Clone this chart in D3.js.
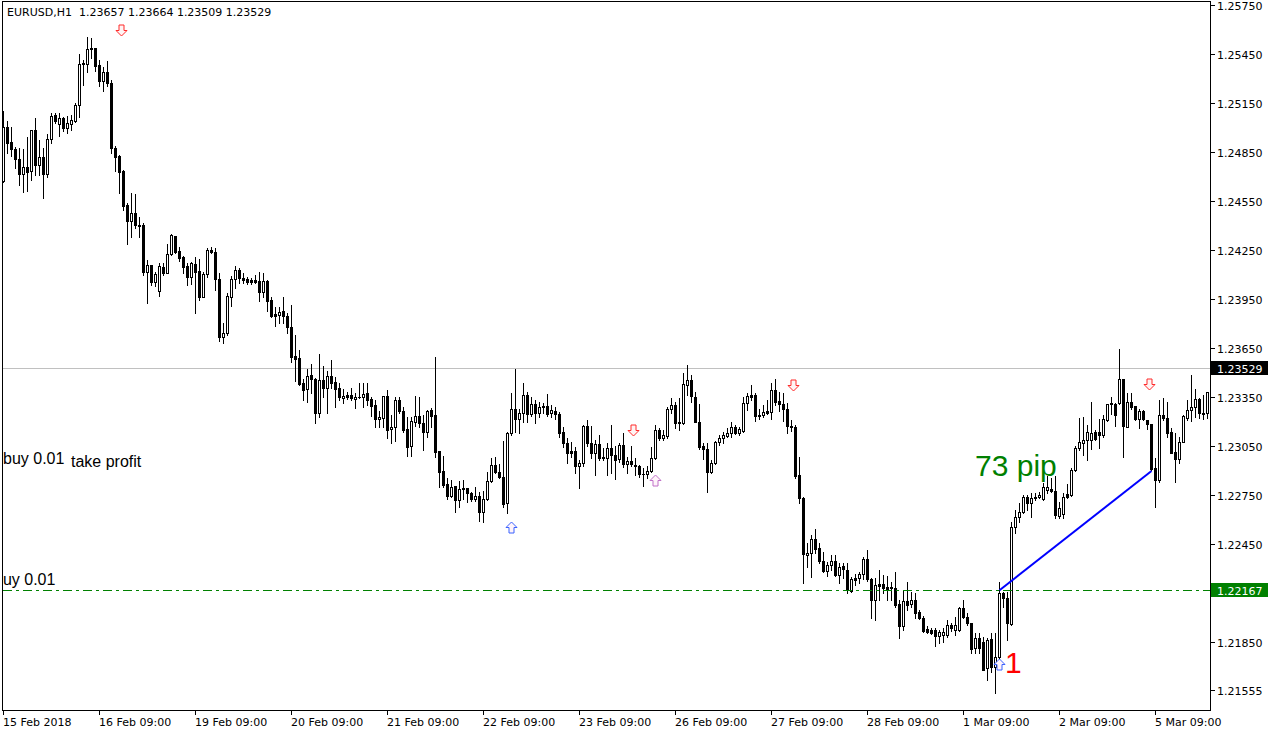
<!DOCTYPE html>
<html><head><meta charset="utf-8">
<script src="https://cdn.jsdelivr.net/npm/d3@7"></script>
<style>
html,body{margin:0;padding:0;background:#fff;}
svg{display:block;}
text{font-family:"DejaVu Sans",sans-serif;}
text.ann{font-family:"Liberation Sans",Arial,sans-serif;}
</style></head><body>
<svg id="c" width="1270" height="734"></svg>
<script>
const open=[1.24673,1.25003,1.24912,1.24869,1.24808,1.24716,1.24759,1.24734,1.24985,1.24771,1.24820,1.24716,1.24930,1.25077,1.25022,1.25059,1.24997,1.25022,1.25040,1.25138,1.25389,1.25389,1.25481,1.25487,1.25383,1.25285,1.25340,1.25273,1.24875,1.24826,1.24734,1.24526,1.24428,1.24477,1.24404,1.24404,1.24116,1.24159,1.24055,1.24000,1.24147,1.24110,1.24226,1.24336,1.24245,1.24208,1.24153,1.24085,1.24165,1.24122,1.23963,1.24104,1.24251,1.24238,1.24073,1.23718,1.23743,1.23963,1.24073,1.24128,1.24079,1.24073,1.24067,1.24067,1.24061,1.23994,1.24061,1.23945,1.23859,1.23853,1.23877,1.23847,1.23779,1.23602,1.23590,1.23437,1.23400,1.23486,1.23461,1.23252,1.23455,1.23406,1.23480,1.23443,1.23406,1.23345,1.23363,1.23363,1.23339,1.23351,1.23351,1.23375,1.23339,1.23301,1.23215,1.23222,1.23357,1.23154,1.23166,1.23332,1.23264,1.23154,1.23050,1.23197,1.23234,1.23191,1.23136,1.23271,1.23240,1.23020,1.22897,1.22818,1.22744,1.22805,1.22720,1.22793,1.22793,1.22762,1.22726,1.22744,1.22646,1.22726,1.22836,1.22934,1.22891,1.22860,1.22701,1.23130,1.23277,1.23215,1.23252,1.23363,1.23246,1.23307,1.23252,1.23295,1.23295,1.23252,1.23264,1.23246,1.23136,1.23069,1.23020,1.23020,1.22928,1.22946,1.23173,1.23069,1.23007,1.23062,1.22983,1.22977,1.23038,1.22995,1.22971,1.23056,1.22940,1.22958,1.22934,1.22928,1.22879,1.22879,1.22897,1.22977,1.23148,1.23099,1.23111,1.23277,1.23301,1.23191,1.23191,1.23424,1.23455,1.23351,1.23197,1.23050,1.23032,1.22891,1.22946,1.23075,1.23099,1.23111,1.23130,1.23166,1.23130,1.23142,1.23313,1.23363,1.23363,1.23240,1.23240,1.23264,1.23258,1.23394,1.23326,1.23307,1.23277,1.23173,1.23166,1.22873,1.22732,1.22383,1.22395,1.22481,1.22426,1.22346,1.22285,1.22322,1.22346,1.22261,1.22316,1.22291,1.22163,1.22242,1.22242,1.22267,1.22359,1.22236,1.22108,1.22206,1.22206,1.22187,1.22187,1.22181,1.22083,1.21949,1.22102,1.22083,1.22108,1.22034,1.21998,1.21930,1.21924,1.21924,1.21887,1.21894,1.21894,1.21955,1.21924,1.21924,1.22059,1.22004,1.21967,1.21814,1.21875,1.21851,1.21691,1.21869,1.21698,1.21759,1.22150,1.22120,1.21961,1.22554,1.22616,1.22646,1.22738,1.22701,1.22732,1.22738,1.22726,1.22781,1.22787,1.22775,1.22622,1.22634,1.22756,1.22750,1.22903,1.23038,1.23069,1.23087,1.23087,1.23136,1.23136,1.23118,1.23209,1.23307,1.23307,1.23313,1.23461,1.23166,1.23320,1.23295,1.23215,1.23264,1.23209,1.23185,1.22915,1.22842,1.23240,1.23222,1.23136,1.23013,1.22971,1.23075,1.23222,1.23271,1.23289,1.23339,1.23252,1.23252];
const high=[1.25101,1.25040,1.25003,1.24881,1.24875,1.24869,1.24942,1.24985,1.25059,1.24924,1.24875,1.24961,1.25089,1.25089,1.25089,1.25065,1.25071,1.25077,1.25150,1.25450,1.25413,1.25554,1.25548,1.25487,1.25413,1.25371,1.25407,1.25291,1.24887,1.24832,1.24740,1.24538,1.24599,1.24593,1.24453,1.24416,1.24189,1.24159,1.24116,1.24171,1.24171,1.24287,1.24349,1.24336,1.24269,1.24214,1.24171,1.24177,1.24208,1.24196,1.24116,1.24263,1.24269,1.24263,1.24110,1.23804,1.23987,1.24092,1.24153,1.24140,1.24110,1.24085,1.24079,1.24098,1.24116,1.24110,1.24067,1.23963,1.23902,1.23902,1.23963,1.23865,1.23914,1.23731,1.23639,1.23461,1.23522,1.23553,1.23467,1.23614,1.23541,1.23510,1.23577,1.23473,1.23437,1.23400,1.23382,1.23406,1.23375,1.23437,1.23437,1.23437,1.23351,1.23332,1.23264,1.23357,1.23394,1.23240,1.23351,1.23351,1.23289,1.23228,1.23228,1.23357,1.23351,1.23240,1.23271,1.23283,1.23596,1.23020,1.22989,1.22854,1.22842,1.22805,1.22836,1.22842,1.22793,1.22769,1.22799,1.22769,1.22775,1.22891,1.22977,1.22983,1.22940,1.23081,1.23136,1.23375,1.23522,1.23277,1.23437,1.23382,1.23351,1.23332,1.23320,1.23313,1.23369,1.23301,1.23289,1.23258,1.23166,1.23099,1.23075,1.23044,1.22964,1.23179,1.23209,1.23173,1.23087,1.23118,1.23038,1.23069,1.23179,1.23050,1.23069,1.23130,1.22983,1.23050,1.22977,1.22934,1.22915,1.22928,1.23044,1.23179,1.23160,1.23148,1.23289,1.23345,1.23320,1.23345,1.23498,1.23547,1.23486,1.23382,1.23307,1.23069,1.23069,1.22964,1.23081,1.23118,1.23136,1.23160,1.23197,1.23179,1.23166,1.23351,1.23375,1.23424,1.23375,1.23277,1.23301,1.23332,1.23437,1.23461,1.23382,1.23375,1.23313,1.23209,1.23179,1.22983,1.22738,1.22457,1.22506,1.22542,1.22457,1.22401,1.22340,1.22383,1.22383,1.22334,1.22334,1.22334,1.22248,1.22267,1.22279,1.22371,1.22414,1.22242,1.22242,1.22291,1.22261,1.22255,1.22218,1.22279,1.22108,1.22169,1.22218,1.22157,1.22150,1.22047,1.22010,1.21949,1.21936,1.21936,1.21924,1.21936,1.21985,1.21967,1.22004,1.22065,1.22108,1.22028,1.21967,1.21906,1.21906,1.21881,1.21875,1.21906,1.21906,1.22218,1.22157,1.22157,1.22585,1.22659,1.22701,1.22750,1.22750,1.22762,1.22762,1.22769,1.22824,1.22867,1.22854,1.22867,1.22708,1.22762,1.22818,1.22915,1.23050,1.23222,1.23228,1.23179,1.23320,1.23148,1.23215,1.23240,1.23307,1.23351,1.23313,1.23645,1.23461,1.23375,1.23375,1.23295,1.23277,1.23271,1.23209,1.23185,1.22977,1.23332,1.23345,1.23320,1.23160,1.23130,1.23105,1.23240,1.23332,1.23486,1.23400,1.23345,1.23363,1.23382];
const low=[1.24667,1.24844,1.24826,1.24752,1.24648,1.24606,1.24612,1.24679,1.24710,1.24710,1.24569,1.24697,1.24906,1.25028,1.24948,1.24979,1.24967,1.24985,1.25034,1.25065,1.25260,1.25340,1.25426,1.25346,1.25254,1.25224,1.25254,1.24844,1.24734,1.24599,1.24496,1.24287,1.24330,1.24385,1.24330,1.24098,1.23926,1.24036,1.24030,1.23969,1.24098,1.24110,1.24220,1.24232,1.24183,1.24110,1.24036,1.24043,1.23865,1.23945,1.23963,1.24085,1.24232,1.24006,1.23694,1.23682,1.23731,1.23908,1.24018,1.24049,1.24049,1.24043,1.24043,1.24049,1.23939,1.23963,1.23877,1.23841,1.23786,1.23804,1.23804,1.23743,1.23565,1.23449,1.23424,1.23332,1.23320,1.23375,1.23191,1.23228,1.23351,1.23252,1.23406,1.23289,1.23332,1.23313,1.23339,1.23332,1.23283,1.23345,1.23289,1.23301,1.23234,1.23166,1.23166,1.23166,1.23099,1.23069,1.23081,1.23252,1.23136,1.22989,1.22989,1.23173,1.23166,1.23026,1.23105,1.23166,1.22983,1.22799,1.22799,1.22726,1.22738,1.22646,1.22677,1.22726,1.22708,1.22714,1.22714,1.22591,1.22585,1.22720,1.22830,1.22885,1.22854,1.22677,1.22640,1.23118,1.23136,1.23130,1.23197,1.23197,1.23234,1.23191,1.23228,1.23252,1.23234,1.23228,1.23215,1.23105,1.23044,1.22946,1.22983,1.22885,1.22793,1.22928,1.23050,1.22977,1.22873,1.22964,1.22964,1.22873,1.22885,1.22848,1.22952,1.22922,1.22885,1.22928,1.22873,1.22860,1.22805,1.22854,1.22891,1.22971,1.23087,1.23087,1.23099,1.23252,1.23160,1.23148,1.23185,1.23363,1.23320,1.23197,1.23032,1.22971,1.22769,1.22885,1.22940,1.23056,1.23069,1.23105,1.23105,1.23124,1.23118,1.23136,1.23271,1.23332,1.23203,1.23215,1.23228,1.23246,1.23215,1.23301,1.23264,1.23203,1.23130,1.23142,1.22854,1.22701,1.22212,1.22310,1.22248,1.22395,1.22334,1.22279,1.22255,1.22291,1.22255,1.22212,1.22242,1.22150,1.22157,1.22199,1.22212,1.22236,1.22224,1.21998,1.21985,1.22108,1.22150,1.22108,1.22108,1.22065,1.21875,1.21924,1.22047,1.22065,1.21998,1.21991,1.21912,1.21906,1.21900,1.21826,1.21845,1.21851,1.21881,1.21918,1.21894,1.21918,1.21998,1.21955,1.21783,1.21783,1.21783,1.21679,1.21618,1.21667,1.21538,1.21722,1.22065,1.21863,1.21955,1.22518,1.22585,1.22640,1.22659,1.22616,1.22720,1.22732,1.22720,1.22762,1.22769,1.22610,1.22610,1.22610,1.22732,1.22744,1.22897,1.23026,1.22995,1.22964,1.23032,1.23087,1.23038,1.23105,1.23203,1.23246,1.23173,1.23307,1.22983,1.23166,1.23277,1.23209,1.23160,1.23209,1.23154,1.22903,1.22677,1.22830,1.23209,1.23105,1.23007,1.22830,1.22946,1.23075,1.23209,1.23203,1.23228,1.23222,1.23215,1.23222];
const close=[1.25003,1.24906,1.24869,1.24808,1.24716,1.24759,1.24728,1.24985,1.24771,1.24820,1.24716,1.24930,1.25071,1.25040,1.25059,1.24997,1.25028,1.25046,1.25138,1.25389,1.25395,1.25481,1.25487,1.25377,1.25285,1.25340,1.25273,1.24875,1.24820,1.24728,1.24520,1.24428,1.24477,1.24404,1.24398,1.24116,1.24159,1.24055,1.24104,1.24153,1.24110,1.24226,1.24343,1.24238,1.24202,1.24147,1.24085,1.24171,1.24116,1.23963,1.24104,1.24251,1.24238,1.24073,1.23718,1.23743,1.23969,1.24073,1.24128,1.24079,1.24067,1.24055,1.24055,1.24055,1.23994,1.24061,1.23939,1.23847,1.23847,1.23871,1.23847,1.23779,1.23596,1.23584,1.23431,1.23394,1.23480,1.23461,1.23252,1.23455,1.23406,1.23480,1.23437,1.23400,1.23351,1.23357,1.23351,1.23345,1.23351,1.23351,1.23369,1.23332,1.23295,1.23215,1.23228,1.23357,1.23148,1.23166,1.23332,1.23264,1.23148,1.23044,1.23203,1.23234,1.23191,1.23136,1.23264,1.23234,1.23013,1.22891,1.22811,1.22744,1.22799,1.22720,1.22787,1.22787,1.22762,1.22726,1.22744,1.22646,1.22726,1.22836,1.22934,1.22891,1.22860,1.22695,1.23130,1.23277,1.23215,1.23252,1.23363,1.23246,1.23307,1.23252,1.23289,1.23289,1.23246,1.23271,1.23246,1.23130,1.23069,1.23007,1.23007,1.22928,1.22946,1.23173,1.23069,1.23007,1.23062,1.22977,1.22977,1.23038,1.22995,1.22964,1.23056,1.22940,1.22958,1.22940,1.22928,1.22879,1.22879,1.22897,1.22977,1.23148,1.23099,1.23118,1.23277,1.23301,1.23191,1.23197,1.23431,1.23455,1.23357,1.23197,1.23044,1.23032,1.22891,1.22946,1.23075,1.23099,1.23118,1.23130,1.23166,1.23130,1.23154,1.23313,1.23357,1.23351,1.23234,1.23234,1.23258,1.23252,1.23394,1.23320,1.23307,1.23277,1.23173,1.23166,1.22867,1.22732,1.22389,1.22395,1.22481,1.22420,1.22346,1.22285,1.22322,1.22346,1.22261,1.22310,1.22297,1.22169,1.22236,1.22230,1.22267,1.22359,1.22236,1.22108,1.22199,1.22193,1.22181,1.22175,1.22181,1.22077,1.21949,1.22102,1.22077,1.22108,1.22028,1.21998,1.21918,1.21912,1.21906,1.21887,1.21912,1.21912,1.21955,1.21936,1.21955,1.22059,1.22004,1.21967,1.21808,1.21875,1.21814,1.21679,1.21863,1.21698,1.21759,1.22150,1.22120,1.21967,1.22554,1.22616,1.22646,1.22738,1.22701,1.22732,1.22738,1.22750,1.22799,1.22799,1.22775,1.22628,1.22671,1.22738,1.22738,1.22903,1.23038,1.23075,1.23087,1.23136,1.23130,1.23093,1.23118,1.23215,1.23307,1.23313,1.23240,1.23461,1.23173,1.23320,1.23289,1.23215,1.23264,1.23215,1.23185,1.22909,1.22842,1.23240,1.23222,1.23130,1.23007,1.22971,1.23075,1.23234,1.23271,1.23289,1.23339,1.23252,1.23246,1.23382];

const timeTickBars=[0,24,48,72,96,120,144,168,192,216,240,264,288];
const timeLabels=["15 Feb 2018","16 Feb 09:00","19 Feb 09:00","20 Feb 09:00","21 Feb 09:00","22 Feb 09:00","23 Feb 09:00","26 Feb 09:00","27 Feb 09:00","28 Feb 09:00","1 Mar 09:00","2 Mar 09:00","5 Mar 09:00"];
const priceTicks=[1.25750,1.25450,1.25150,1.24850,1.24550,1.24250,1.23950,1.23650,1.23350,1.23050,1.22750,1.22450,1.21850,1.21555];
const titleText="EURUSD,H1  1.23657 1.23664 1.23509 1.23529";
const bidPrice=1.23529;
const orderPrice=1.22167;
const orderBar=249, tpBar=287, tpPrice=1.22897;
const sellBars=[30,158,198,287];
const sellPrices=[1.25597,1.23146,1.23421,1.23427];
const buyBars=[127,163,249];
const buyPrices=[1.22552,1.22842,1.21716];
const buyColors=["#3a62ff","#c070c8","#3a62ff"];

const svg=d3.select('#c');
const x=d3.scaleLinear().domain([0,301]).range([3,1207]);
const y=d3.scaleLinear().domain([1.2155,1.2575]).range([691,5]);
const bars=open.map((o,i)=>({i,o,h:high[i],l:low[i],c:close[i]}));

svg.append('defs').append('clipPath').attr('id','clip')
  .append('rect').attr('x',3).attr('y',2).attr('width',1207).attr('height',708);

const g=svg.append('g').attr('clip-path','url(#clip)');

// bid line
g.append('line').attr('x1',3).attr('x2',1210)
  .attr('y1',Math.round(y(bidPrice))+0.5).attr('y2',Math.round(y(bidPrice))+0.5)
  .attr('stroke','#c0c0c0').attr('stroke-width',1);

// wicks
g.selectAll('line.wick').data(bars).join('line').attr('class','wick')
  .attr('x1',d=>x(d.i)+0.5).attr('x2',d=>x(d.i)+0.5)
  .attr('y1',d=>Math.round(y(d.h))).attr('y2',d=>Math.round(y(d.l))+1)
  .attr('stroke','#000').attr('stroke-width',1);

// bodies
const bodyData=bars.map(d=>{
  const yo=Math.round(y(d.o)), yc=Math.round(y(d.c));
  return {d, top:Math.min(yo,yc), bot:Math.max(yo,yc), bull:d.c>d.o};
});
g.selectAll('rect.body').data(bodyData.filter(b=>b.bot-b.top>=1)).join('rect').attr('class','body')
  .attr('x',b=>x(b.d.i)-0.5).attr('y',b=>b.top+0.5)
  .attr('width',2).attr('height',b=>b.bot-b.top)
  .attr('fill',b=>b.bull?'#fff':'#000').attr('stroke','#000').attr('stroke-width',1);
g.selectAll('line.doji').data(bodyData.filter(b=>b.bot-b.top<1)).join('line').attr('class','doji')
  .attr('x1',b=>x(b.d.i)-1).attr('x2',b=>x(b.d.i)+2)
  .attr('y1',b=>b.top+0.5).attr('y2',b=>b.top+0.5)
  .attr('stroke','#000').attr('stroke-width',1);

// order line (dash-dot)
g.append('line').attr('x1',3).attr('x2',1210)
  .attr('y1',Math.round(y(orderPrice))+0.5).attr('y2',Math.round(y(orderPrice))+0.5)
  .attr('stroke','#008000').attr('stroke-width',1).attr('stroke-dasharray','9,4,3,4');

// trade line
g.append('line').attr('x1',x(orderBar)+0.5).attr('y1',y(orderPrice))
  .attr('x2',x(tpBar)+0.5).attr('y2',y(tpPrice))
  .attr('stroke','#0000ff').attr('stroke-width',2);

// arrows
function downArrow(cx,cy){
  return `M${cx-2.5},${cy-5.5}H${cx+2.5}V${cy}H${cx+5.5}L${cx},${cy+5.5}L${cx-5.5},${cy}H${cx-2.5}Z`;
}
function upArrow(cx,cy){
  return `M${cx-2.5},${cy+5.5}H${cx+2.5}V${cy}H${cx+5.5}L${cx},${cy-5.5}L${cx-5.5},${cy}H${cx-2.5}Z`;
}
g.selectAll('path.sell').data(sellBars).join('path').attr('class','sell')
  .attr('d',(b,k)=>downArrow(x(b)-1.5,Math.round(y(sellPrices[k]))+0.5))
  .attr('fill','#fff4f4').attr('stroke','#ff2a2a').attr('stroke-width',1);
g.selectAll('path.buy').data(buyBars).join('path').attr('class','buy')
  .attr('d',(b,k)=>upArrow(x(b)+0.5,Math.round(y(buyPrices[k]))+0.5))
  .attr('fill','#fff4fa').attr('stroke',(b,k)=>buyColors[k]).attr('stroke-width',1);

// annotations
const ann=g.append('g');
ann.append('text').attr('class','ann').attr('x',x(0)).attr('y',y(1.22940)).attr('font-size',16).attr('fill','#000').text('buy 0.01');
ann.append('text').attr('class','ann').attr('x',x(17)).attr('y',y(1.22922)).attr('font-size',16).attr('fill','#000').text('take profit');
ann.append('text').attr('class','ann').attr('x',x(0)-9).attr('y',y(orderPrice)-5).attr('font-size',16).attr('fill','#000').text('buy 0.01');
ann.append('text').attr('class','ann').attr('x',x(243)).attr('y',y(1.22867)).attr('font-size',30).attr('fill','#008000').text('73 pip');
ann.append('text').attr('class','ann').attr('x',x(250)+2).attr('y',y(1.21661)).attr('font-size',30).attr('fill','#ff0000').text('1');

// frame
svg.append('rect').attr('x',2.5).attr('y',1.5).attr('width',1208).attr('height',709)
  .attr('fill','none').attr('stroke','#000').attr('stroke-width',1);

// title
svg.append('text').attr('x',7).attr('y',16).attr('font-size',11).style('white-space','pre')
  .attr('fill','#000').text(titleText);

// price axis
const fmt=d3.format('.5f');
const pa=svg.append('g');
pa.selectAll('line').data(priceTicks).join('line')
  .attr('x1',1211).attr('x2',1215)
  .attr('y1',p=>Math.round(y(p))+0.5).attr('y2',p=>Math.round(y(p))+0.5)
  .attr('stroke','#000');
pa.selectAll('text').data(priceTicks).join('text')
  .attr('x',1217).attr('y',p=>Math.round(y(p))+4.5).attr('font-size',11).attr('fill','#000')
  .text(p=>fmt(p));

// price boxes
[[bidPrice,'#000'],[orderPrice,'#008000']].forEach(([p,col])=>{
  const yy=Math.round(y(p));
  svg.append('rect').attr('x',1211).attr('y',yy-7).attr('width',57).attr('height',14).attr('fill',col);
  svg.append('text').attr('x',1217).attr('y',yy+4.5).attr('font-size',11).attr('fill','#fff').text(fmt(p));
});

// time axis
const ta=svg.append('g');
ta.selectAll('line').data(timeTickBars).join('line')
  .attr('x1',b=>x(b)+0.5).attr('x2',b=>x(b)+0.5).attr('y1',711).attr('y2',715)
  .attr('stroke','#000');
ta.selectAll('text').data(timeTickBars).join('text')
  .attr('x',b=>x(b)).attr('y',726).attr('font-size',11).attr('fill','#000')
  .text((b,k)=>timeLabels[k]);
</script>
</body></html>
